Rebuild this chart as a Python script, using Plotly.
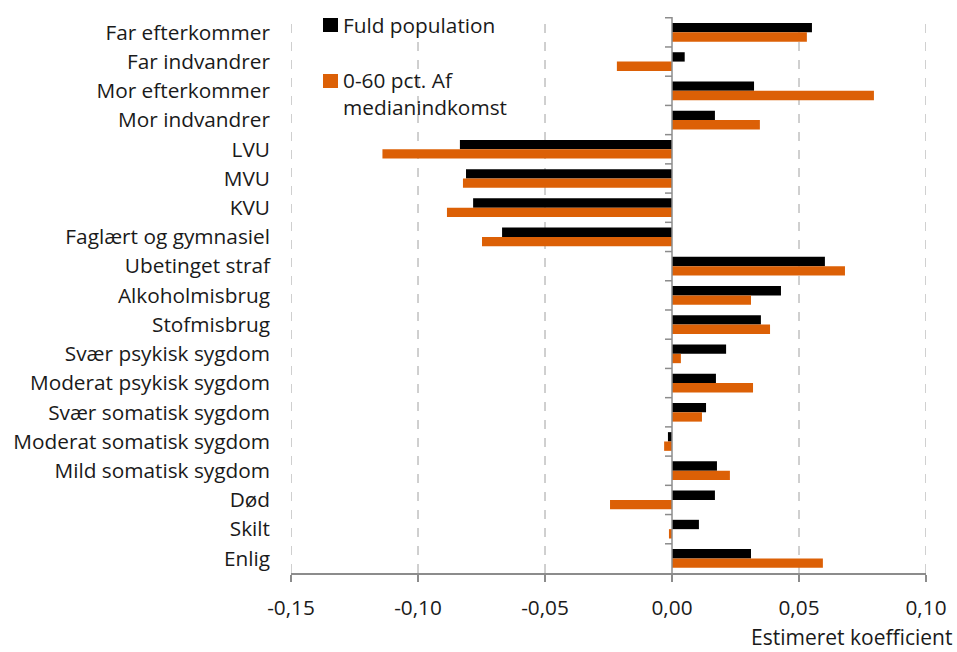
import plotly.graph_objects as go

categories = [
    "Far efterkommer", "Far indvandrer", "Mor efterkommer", "Mor indvandrer",
    "LVU", "MVU", "KVU", "Faglært og gymnasiel", "Ubetinget straf",
    "Alkoholmisbrug", "Stofmisbrug", "Svær psykisk sygdom",
    "Moderat psykisk sygdom", "Svær somatisk sygdom",
    "Moderat somatisk sygdom", "Mild somatisk sygdom", "Død", "Skilt", "Enlig",
]
fuld_population = [
    0.0551, 0.0050, 0.0323, 0.0169, -0.0835, -0.0811, -0.0783, -0.0669,
    0.0602, 0.0429, 0.0350, 0.0213, 0.0173, 0.0134, -0.0016, 0.0177,
    0.0169, 0.0106, 0.0311,
]
lav_indkomst = [
    0.0531, -0.0217, 0.0795, 0.0346, -0.1140, -0.0823, -0.0886, -0.0748,
    0.0681, 0.0311, 0.0386, 0.0035, 0.0319, 0.0118, -0.0031, 0.0228,
    -0.0244, -0.0012, 0.0594,
]
series_names = ["Fuld population", "0-60 pct. Af", "medianindkomst"]
tick_vals = [-0.15, -0.10, -0.05, 0.00, 0.05, 0.10]
tick_text = ["-0,15", "-0,10", "-0,05", "0,00", "0,05", "0,10"]
axis_title = "Estimeret koefficient"

FONT = "Open Sans"
FS = 20.8
TXT = "#1a1a1a"
ORANGE = "#DC6006"
AXC = "#8c8c8c"

fig = go.Figure()
fig.add_trace(go.Bar(
    y=categories, x=fuld_population, orientation="h",
    name=series_names[0], marker=dict(color="black", line=dict(width=0)),
))
fig.add_trace(go.Bar(
    y=categories, x=lav_indkomst, orientation="h",
    name=series_names[1] + " " + series_names[2], marker=dict(color=ORANGE, line=dict(width=0)),
))

shapes = []
for v in tick_vals:
    if v != 0:
        shapes.append(dict(type="line", xref="x", yref="paper", x0=v, x1=v, y0=0, y1=1,
                           line=dict(color="#a0a0a0", width=1, dash="dash"), layer="below"))
shapes.append(dict(type="line", xref="x", yref="paper", x0=0, x1=0, y0=0, y1=1,
                   line=dict(color=AXC, width=1.5)))
n = len(categories)
for i in range(n):
    shapes.append(dict(type="line", xref="x", yref="y", xsizemode="pixel", xanchor=0,
                       x0=-7, x1=0, y0=i - 0.5, y1=i - 0.5,
                       line=dict(color=AXC, width=1.5)))

# manual legend (paper coords; plot area 291..926 x 17..573)
PW, PH = 635.0, 556.0
def px(xp):
    return (xp - 291) / PW
def py(yp):
    return (573 - yp) / PH

shapes.append(dict(type="rect", xref="paper", yref="paper",
                   x0=px(323), x1=px(338), y0=py(32), y1=py(18),
                   fillcolor="black", line=dict(width=0)))
shapes.append(dict(type="rect", xref="paper", yref="paper",
                   x0=px(323), x1=px(338), y0=py(88), y1=py(74),
                   fillcolor=ORANGE, line=dict(width=0)))

annotations = [
    dict(text=series_names[0], xref="paper", yref="paper", x=px(341), y=py(25),
         xanchor="left", yanchor="middle", showarrow=False,
         font=dict(family=FONT, size=FS, color=TXT)),
    dict(text=series_names[1], xref="paper", yref="paper", x=px(341), y=py(80),
         xanchor="left", yanchor="middle", showarrow=False,
         font=dict(family=FONT, size=FS, color=TXT)),
    dict(text=series_names[2], xref="paper", yref="paper", x=px(341), y=py(107),
         xanchor="left", yanchor="middle", showarrow=False,
         font=dict(family=FONT, size=FS, color=TXT)),
    dict(text=axis_title, xref="paper", yref="paper", x=px(954), y=py(637),
         xanchor="right", yanchor="middle", showarrow=False,
         font=dict(family=FONT, size=21, color=TXT)),
]

fig.update_layout(
    width=957, height=652,
    margin=dict(l=291, r=31, t=17, b=79, autoexpand=False),
    paper_bgcolor="white", plot_bgcolor="white",
    barmode="group", bargap=0.36, bargroupgap=0,
    font=dict(family=FONT, size=FS, color=TXT),
    showlegend=False,
    shapes=shapes,
    annotations=annotations,
    xaxis=dict(range=[-0.15, 0.10], tickvals=tick_vals, ticktext=tick_text,
               showgrid=False, zeroline=False, showline=True, linecolor=AXC,
               linewidth=1.5, ticks="outside", ticklen=7, tickcolor=AXC,
               tickwidth=1.5, ticklabelstandoff=8,
               tickfont=dict(family=FONT, size=FS, color=TXT)),
    yaxis=dict(autorange="reversed", showgrid=False, zeroline=False, showline=False,
               ticks="", ticklabelstandoff=20,
               tickfont=dict(family=FONT, size=FS, color=TXT)),
)

fig.write_html("out.html", config={"displayModeBar": False},
               post_script="document.body.style.margin='0';")
